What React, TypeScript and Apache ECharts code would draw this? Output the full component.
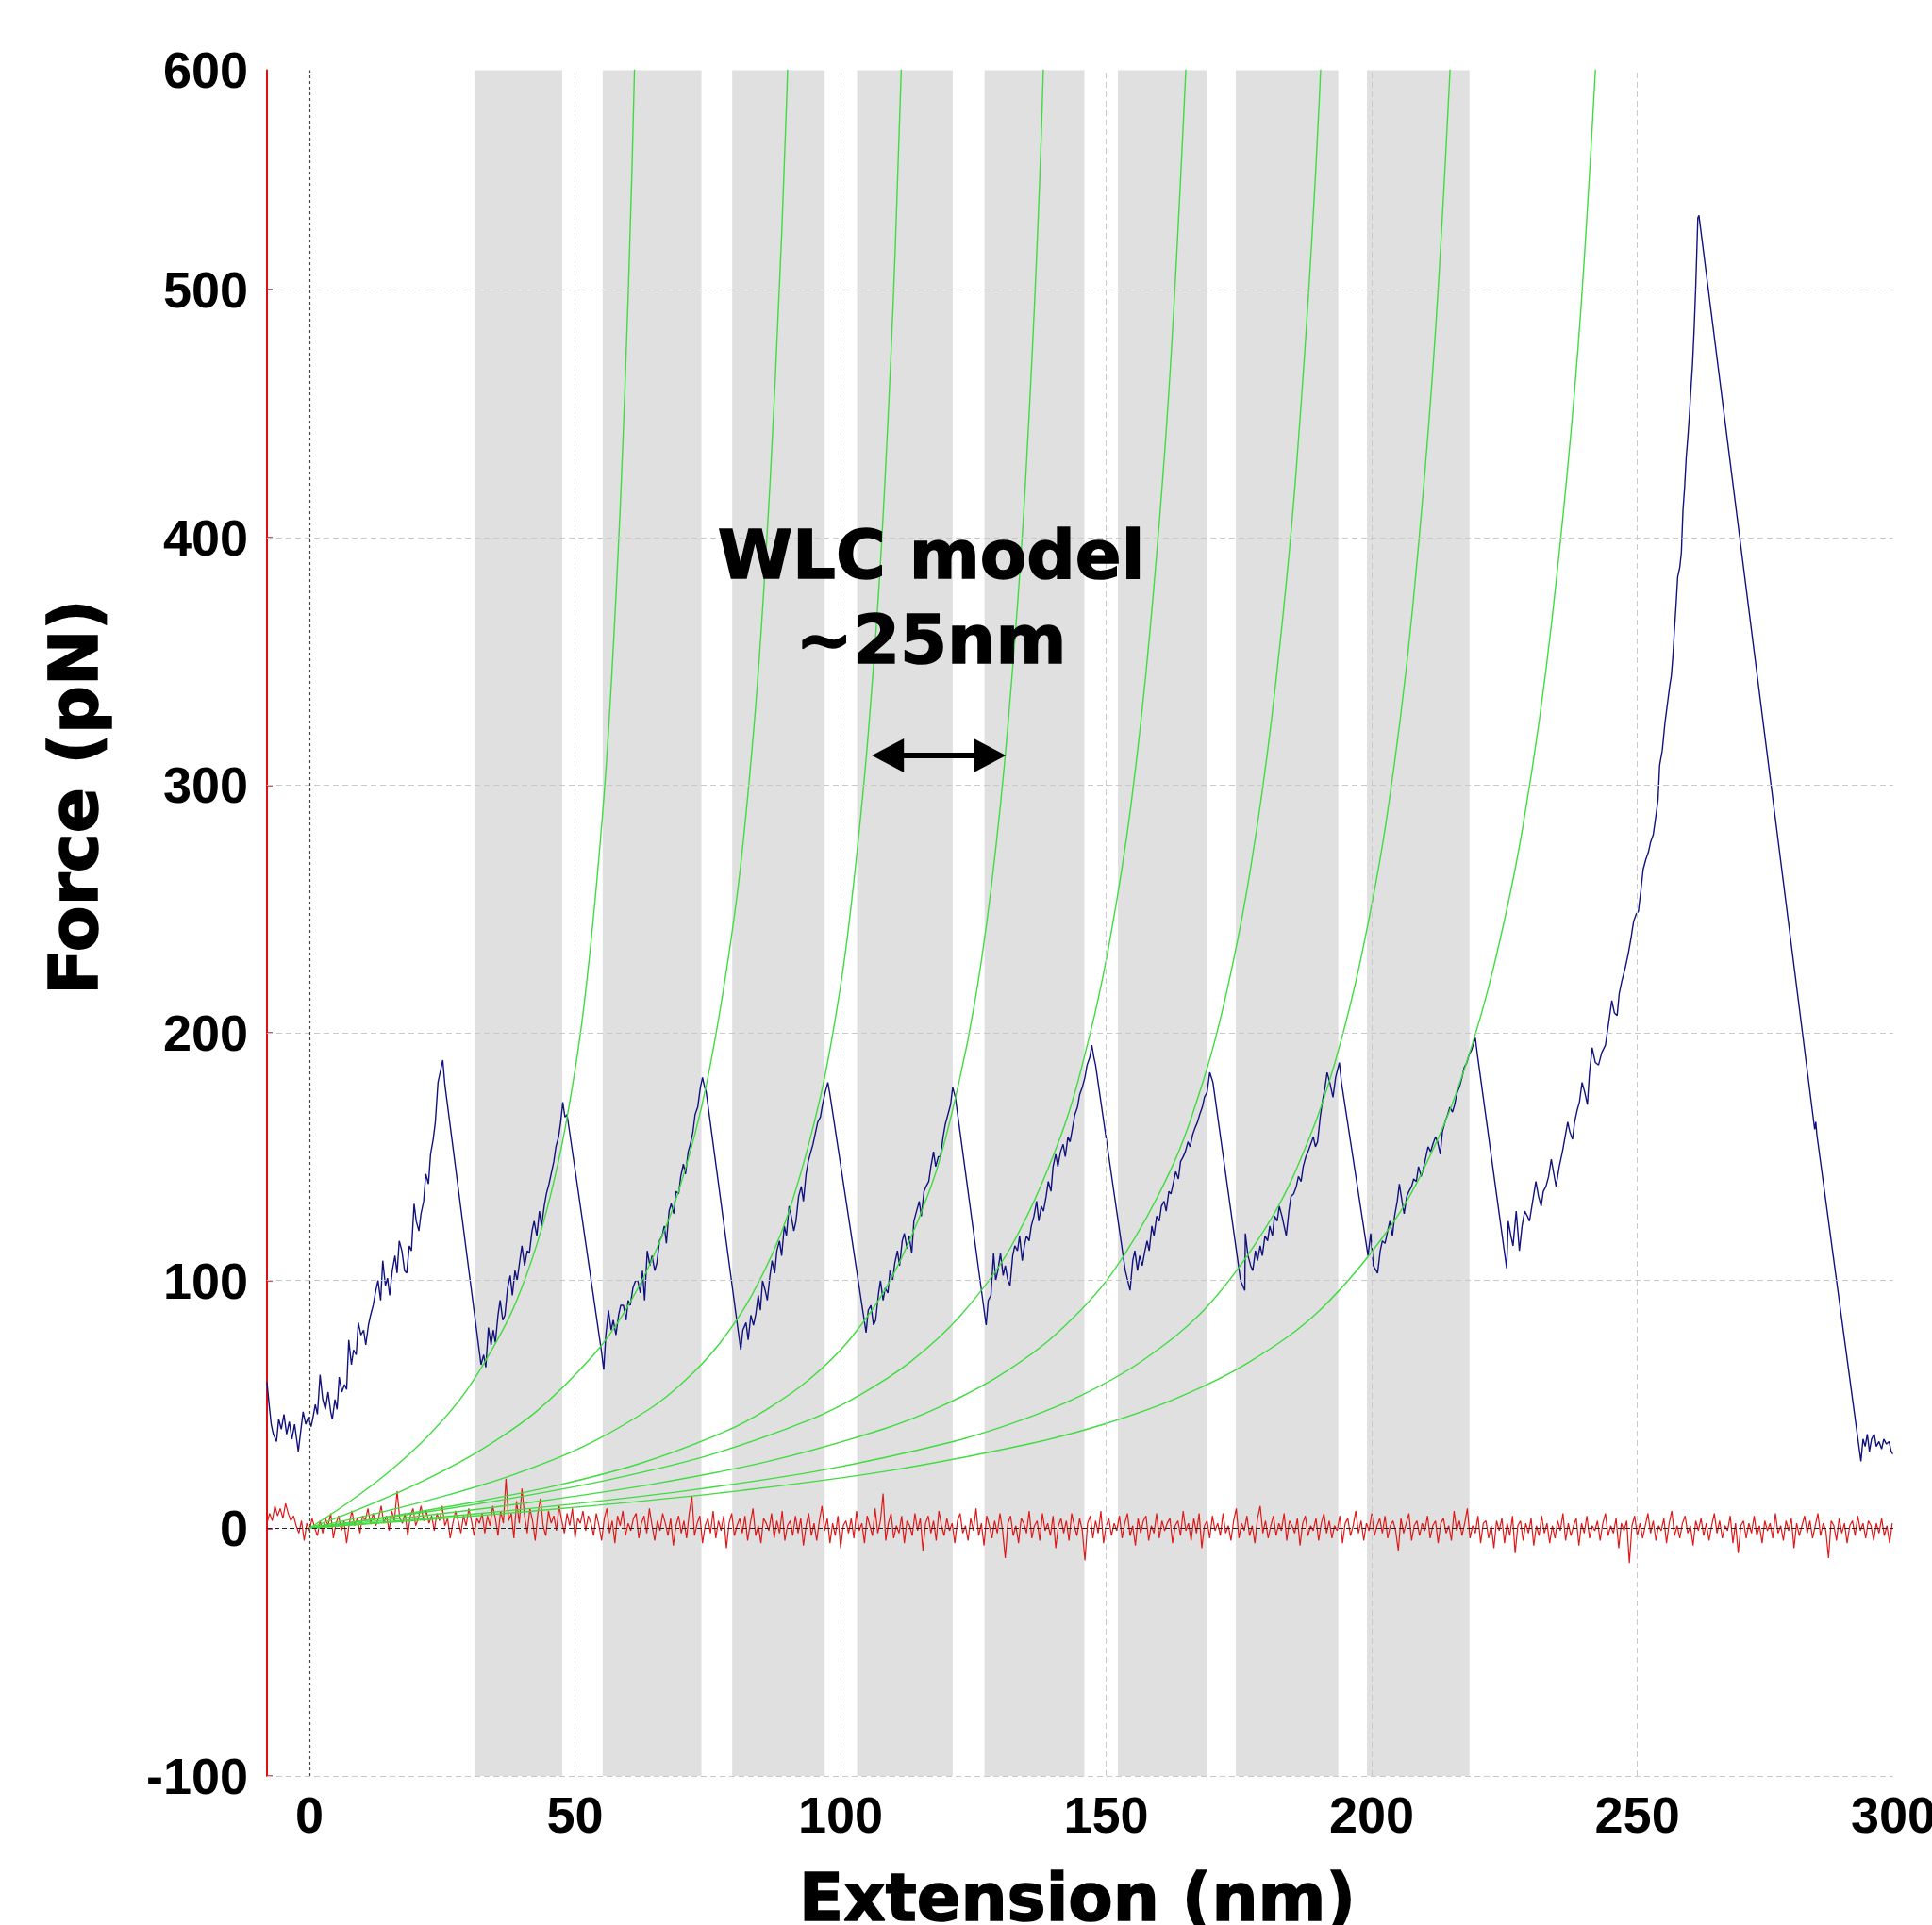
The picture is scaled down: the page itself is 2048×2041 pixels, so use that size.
import React, { useEffect, useRef } from 'react';
import * as echarts from 'echarts';

// ---------- axes ----------
const X_MIN = -8;
const X_MAX = 298.2;
const Y_MIN = -100;
const Y_MAX = 588.6;

const X_TICK_VALUES = [0, 50, 100, 150, 200, 250, 298.2];
const X_TICK_LABELS = ['0', '50', '100', '150', '200', '250', '300'];
const Y_TICK_VALUES = [-100, 0, 100, 200, 300, 400, 500, 588.6];
const Y_TICK_LABELS = ['-100', '0', '100', '200', '300', '400', '500', '600'];

const X_GRID = [50, 100, 150, 200, 250];
const Y_GRID = [-100, 100, 200, 300, 400, 500];

// ---------- shaded unfolding regions (nm) ----------
const BANDS: [number, number][] = [
  [31.1, 47.6], [55.2, 73.8], [79.6, 97.0], [103.1, 121.1],
  [127.1, 145.9], [152.2, 168.9], [174.4, 193.7], [199.1, 218.4],
];

// ---------- retract force curve (blue) ----------
const FORCE_TRACE: [number, number][] = [
  [-8, 59], [-7.6, 50], [-7.2, 42], [-6.8, 38], [-6.2, 35], [-5.8, 44], [-5.3, 40], [-4.8, 46], [-4.3, 38], [-3.8, 43],
  [-3.3, 36], [-2.8, 42], [-2.1, 31], [-1.6, 40], [-1.2, 47], [-0.7, 42], [-0.2, 45], [0.3, 41], [0.6, 44], [1.1, 50],
  [1.5, 46], [2.0, 62], [2.5, 52], [3.0, 48], [3.5, 55], [4.0, 47], [4.3, 44], [4.8, 52], [5.2, 48], [5.6, 61],
  [6.1, 55], [6.6, 58], [7.0, 56], [7.4, 76], [7.9, 66], [8.3, 72], [8.8, 70], [9.2, 83], [9.7, 78], [10.2, 80],
  [10.6, 74], [11.1, 82], [11.5, 86], [12.0, 90], [12.5, 96], [12.9, 100], [13.4, 92], [13.8, 108], [14.3, 98], [14.7, 101],
  [15.1, 94], [15.6, 104], [16.1, 110], [16.5, 103], [16.9, 116], [17.4, 112], [17.9, 104], [18.3, 103], [18.8, 114], [19.2, 112],
  [19.7, 131], [20.1, 124], [20.6, 120], [21.0, 127], [21.5, 132], [21.9, 143], [22.4, 139], [22.8, 151], [23.3, 157], [23.7, 164],
  [24.2, 180], [24.6, 184], [25.1, 189], [25.5, 179],
  [32.3, 66], [32.8, 70], [33.2, 65],
  [33.7, 81], [34.2, 74], [34.6, 80], [35.0, 75], [35.5, 86], [35.9, 92], [36.4, 84], [36.8, 86], [37.3, 97], [37.8, 102],
  [38.2, 94], [38.7, 104], [39.1, 100], [39.6, 108], [40.0, 114], [40.5, 106], [41.0, 112], [41.4, 111], [41.9, 120], [42.3, 124],
  [42.8, 118], [43.3, 128], [43.7, 122], [44.2, 130], [44.6, 135], [45.1, 139], [45.5, 143], [46.0, 148], [46.4, 154], [46.9, 158],
  [47.3, 164], [47.7, 172], [48.1, 166], [48.5, 167],
  [55.0, 71], [55.4, 64],
  [55.8, 78], [56.3, 88], [56.8, 80], [57.2, 84], [57.7, 78], [58.2, 86], [58.6, 90], [59.1, 90], [59.6, 84], [60.0, 92],
  [60.4, 90], [60.9, 97], [61.4, 100], [61.8, 100], [62.3, 95], [62.7, 104], [63.1, 92], [63.6, 112], [64.1, 106], [64.5, 110],
  [65.0, 104], [65.4, 107], [65.9, 116], [66.4, 118], [66.8, 122], [67.2, 115], [67.7, 128], [68.1, 131], [68.6, 127], [69.0, 136],
  [69.5, 135], [69.9, 142], [70.4, 147], [70.8, 143], [71.3, 152], [71.7, 155], [72.2, 160], [72.6, 167], [73.1, 170], [73.6, 178],
  [74.0, 182], [74.4, 178], [74.7, 176],
  [81.2, 72],
  [81.6, 80], [82.2, 83], [82.6, 76], [83.1, 86], [83.6, 82], [84.0, 86], [84.5, 94], [84.9, 88], [85.3, 100], [85.8, 96],
  [86.2, 92], [86.7, 102], [87.1, 108], [87.6, 103], [88.0, 112], [88.5, 116], [88.9, 110], [89.4, 122], [89.8, 118], [90.3, 130],
  [90.7, 126], [91.2, 120], [91.6, 124], [92.1, 134], [92.6, 138], [93.0, 132], [93.5, 143], [93.9, 148], [94.4, 152], [94.8, 155],
  [95.3, 160], [95.7, 164], [96.2, 166], [96.6, 171], [97.1, 176], [97.6, 180], [98.0, 175],
  [104.8, 79],
  [105.2, 88], [105.7, 90], [106.2, 82], [106.6, 84], [107.1, 94], [107.5, 100], [108.0, 92], [108.4, 97], [108.9, 95], [109.3, 104],
  [109.8, 100], [110.2, 107], [110.7, 112], [111.1, 106], [111.6, 116], [112.0, 119], [112.5, 113], [112.9, 118], [113.4, 111], [113.8, 124],
  [114.3, 128], [114.8, 132], [115.2, 126], [115.7, 136], [116.1, 138], [116.6, 140], [117.0, 146], [117.5, 152], [117.9, 146], [118.4, 150],
  [118.8, 150], [119.3, 158], [119.7, 163], [120.2, 167], [120.7, 171], [121.1, 178], [121.6, 174],
  [127.4, 82],
  [127.8, 92], [128.3, 94], [128.8, 111], [129.2, 100], [129.6, 104], [130.1, 111], [130.6, 102], [131.0, 106], [131.5, 100], [131.9, 98],
  [132.4, 110], [132.8, 114], [133.3, 112], [133.7, 118], [134.2, 108], [134.6, 114], [135.0, 118], [135.5, 116], [135.9, 122], [136.4, 126],
  [136.9, 132], [137.3, 124], [137.8, 130], [138.2, 128], [138.7, 134], [139.1, 140], [139.6, 136], [140.0, 146], [140.5, 151], [140.9, 146],
  [141.4, 152], [141.9, 155], [142.3, 150], [142.8, 158], [143.2, 156], [143.7, 162], [144.1, 167], [144.6, 170], [145.0, 175], [145.5, 178],
  [146.0, 182], [146.4, 187], [146.9, 190], [147.3, 195], [147.7, 190], [148.0, 187],
  [153.6, 104], [154.5, 96],
  [155.0, 108], [155.4, 112], [155.9, 104], [156.3, 110], [156.8, 106], [157.2, 111], [157.7, 116], [158.1, 112], [158.6, 122], [159.0, 118],
  [159.5, 126], [160.0, 124], [160.4, 130], [160.9, 132], [161.3, 128], [161.8, 136], [162.2, 135], [162.7, 140], [163.1, 144], [163.6, 141],
  [164.0, 148], [164.5, 150], [164.9, 152], [165.4, 156], [165.8, 154], [166.3, 159], [166.8, 162], [167.2, 164], [167.6, 167], [168.1, 170],
  [168.5, 174], [169.0, 176], [169.5, 184], [170.1, 180],
  [175.3, 100], [176.1, 96],
  [176.2, 119], [176.7, 110], [177.2, 106], [177.6, 104], [178.1, 112], [178.5, 108], [179.0, 114], [179.4, 110], [179.9, 118], [180.4, 116],
  [180.8, 122], [181.3, 118], [181.7, 126], [182.2, 124], [182.6, 130], [183.1, 126], [183.5, 122], [183.9, 118], [184.4, 128], [184.8, 134],
  [185.3, 135], [185.8, 138], [186.2, 142], [186.7, 140], [187.1, 146], [187.6, 150], [188.0, 152], [188.5, 155], [189.0, 158], [189.4, 154],
  [189.8, 156], [190.3, 166], [190.7, 172], [191.2, 178], [191.6, 184], [192.1, 180], [192.7, 174], [193.2, 182], [193.9, 188], [194.3, 180],
  [199.3, 110], [199.8, 119], [200.3, 106], [201.1, 103],
  [201.6, 112], [202.0, 116], [202.5, 115], [203.0, 120], [203.4, 124], [203.9, 118], [204.3, 126], [204.8, 132], [205.2, 139], [205.7, 132],
  [206.1, 127], [206.6, 134], [207.0, 136], [207.5, 138], [207.9, 141], [208.4, 140], [208.8, 146], [209.3, 142], [209.7, 145], [210.2, 150],
  [210.6, 154], [211.1, 152], [211.5, 155], [212.0, 158], [212.4, 156], [212.9, 151], [213.3, 160], [213.8, 164], [214.3, 167], [214.7, 170],
  [215.2, 168], [215.6, 171], [216.1, 176], [216.5, 178], [217.0, 182], [217.4, 186], [217.9, 188], [218.3, 191], [218.8, 193], [219.2, 196],
  [219.5, 198], [219.9, 191],
  [225.4, 105],
  [225.7, 124], [226.2, 118], [226.6, 114], [227.2, 128], [227.8, 112], [228.3, 122], [228.8, 128], [229.3, 126], [229.7, 124], [230.3, 132],
  [230.9, 140], [231.4, 134], [231.9, 130], [232.3, 136], [232.8, 138], [233.3, 142], [233.8, 149], [234.2, 144], [234.7, 138], [235.3, 146],
  [235.9, 152], [236.4, 158], [236.9, 164], [237.3, 160], [237.8, 157], [238.2, 164], [238.7, 169], [239.1, 172], [239.6, 180], [240.1, 176],
  [240.6, 171], [241.0, 184], [241.5, 194], [242.1, 188], [242.7, 187], [243.3, 192], [244.0, 195], [244.6, 204], [245.2, 213], [245.7, 208],
  [246.2, 207], [246.6, 216], [247.1, 221], [247.7, 226], [248.3, 232], [248.8, 238], [249.3, 245], [249.8, 248], [250.2, 249], [250.7, 258],
  [251.1, 266], [251.6, 270], [252.1, 273], [252.5, 277], [253.0, 280], [253.4, 286], [253.9, 294], [254.2, 308], [254.7, 314], [255.2, 325],
  [255.5, 330], [255.8, 335], [256.1, 340], [256.4, 344], [256.7, 352], [257.0, 363], [257.3, 373], [257.6, 384], [258.0, 388], [258.3, 394],
  [258.6, 411], [258.9, 420], [259.2, 432], [259.5, 440], [259.8, 449], [260.1, 460], [260.4, 470], [260.7, 484], [261.0, 501], [261.2, 515],
  [261.4, 529], [261.6, 530],
  [283.4, 161], [283.6, 164], [283.8, 159],
  [292.1, 27],
  [292.5, 36], [292.9, 33], [293.3, 38], [293.7, 31], [294.1, 36], [294.6, 38], [295.0, 33], [295.5, 35], [296.0, 32], [296.4, 36],
  [296.9, 34], [297.4, 35], [297.8, 31], [298.1, 30],
];

// ---------- baseline trace (red), sampled every 0.5 nm from -8 nm ----------
const BASELINE_X0 = -8;
const BASELINE_STEP = 0.5;
const BASELINE_Y = [
  2, 6, 3, 9, 5, 8, 4, 10, 6, 3, 5, 1, -2, 3, -5, 2, -1, 4, 0, -3,
  3, -2, 4, 1, 6, -4, 2, 5, -1, 3, -6, 2, 7, 1, 4, -2, 5, 3, 8, 2,
  6, 1, 4, 9, 2, 5, -1, 7, 3, 15, 4, 2, 6, -3, 5, 8, 1, 4, 9, 3,
  7, 2, 5, -1, 6, 3, 9, 1, 4, -4, 2, 7, 3, -2, 5, 1, 8, 3, -3, 4,
  2, 6, -2, 5, 1, 9, 4, -3, 7, 2, 20, 3, 6, -4, 11, 2, 16, 5, -2, 8,
  3, -5, 6, 12, 1, -3, 7, 2, 5, -1, 9, 3, -2, 6, 1, 8, -4, 4, 2, 7,
  -1, 5, 2, -3, 6, 1, -5, 4, 8, -2, 3, -6, 5, 1, 7, -3, 2, -1, 4, 6,
  -4, 2, 5, -2, 8, 1, -5, 3, -1, 6, 2, -3, 4, -7, 1, 5, -2, 3, -4, 6,
  13, -3, 2, 5, -6, 1, 4, -2, 7, -4, 3, -1, 5, -8, 2, 6, -3, 1, 4, -2,
  5, -5, 2, 8, -3, 1, -6, 4, 2, -1, 6, -4, 3, -2, 7, -5, 1, 3, -3, 5,
  -2, 4, -7, 1, 6, -3, 2, -5, 3, 9, -1, 4, -6, 2, -3, 5, -8, 1, 3, -2,
  4, -4, 7, -1, 2, -6, 5, 1, -3, 8, -2, 3, 14, -5, 2, 6, -4, 1, -2, 5,
  -6, 3, 1, -3, 6, -1, 4, -9, 2, 5, -2, 3, -5, 7, 1, -3, 4, -1, 2, -6,
  3, 6, -2, 1, -5, 4, -1, 8, -3, 2, -7, 5, 1, -4, 3, -2, 6, -1, -12, 2,
  5, -3, 1, -6, 4, 2, -2, 7, -4, 1, 3, -5, 6, -1, 2, -3, 5, -8, 1, 4,
  -2, 3, -5, 6, 1, -3, 4, -1, -13, 2, 5, -4, 3, -2, 7, -6, 1, 4, -3, 2,
  -1, 5, -4, 2, 6, -3, 1, -7, 4, -2, 3, 5, -5, 1, -2, 6, -4, 3, -1, 2,
  4, -6, 1, 3, -3, 7, -1, 2, -5, 4, -2, 6, -8, 1, 3, -4, 5, -1, 2, -3,
  6, -2, 1, -5, 3, 8, -4, 2, -1, 5, -3, 1, -6, 4, 9, -2, 3, -4, 1, 5,
  -3, 2, -1, 6, -5, 3, 1, -2, 4, -7, 2, 5, -3, 1, -1, 4, -5, 2, 6, -2,
  3, -4, 1, -1, 5, -6, 2, 4, -3, 1, 7, -2, 3, -5, 2, -1, 6, -3, 1, 4,
  -2, 5, -4, 1, 3, -1, -9, 4, -2, 2, 6, -5, 1, 3, -3, 2, -1, 5, -4, 1,
  3, -6, 2, 4, -2, 1, -5, 7, -1, 3, -3, 2, 8, -4, 1, -2, 5, -6, 2, 3,
  -4, 1, -8, 3, -1, 4, -6, 2, -3, 5, -10, 1, 3, -5, 2, -2, 4, -7, 1, -3,
  5, -2, 2, -6, 1, -4, 3, -1, 6, -5, 2, -3, 1, 4, -7, 2, -2, 5, -4, 1,
  -1, 3, -5, 2, 6, -3, 1, -2, 4, -8, 2, -1, 3, -14, 1, 5, -3, 2, -4, 1,
  6, -2, 3, -5, 1, -1, 4, -6, 2, 7, -3, 1, -4, 2, 5, -2, 1, -7, 3, -1,
  4, -3, 2, -5, 1, 6, -2, 3, -4, 1, -1, 5, -6, 2, -10, 1, 3, -4, 2, -2,
  5, -3, 1, -6, 3, -1, 2, -4, 6, -2, 1, -5, 3, -1, 4, -8, 2, -3, 1, 5,
  -2, 3, -4, 1, 6, -3, 2, -1, -12, 3, 1, -5, 4, -2, 2, -6, 1, 3, -3, 5,
  -1, 2, -4, 3, 1, -5, 2, -2, 4, -3, 1, -6, 2,
];

// ---------- WLC model fits (green) ----------
const WLC_1: [number, number][] = [[0, 0], [7.4, 10.5], [14.8, 22.5], [22.2, 37.0], [29.6, 55.7], [37.0, 82.5], [40.7, 101.3], [44.4, 126.2], [48.1, 161.1], [51.8, 213.0], [55.5, 297.0], [57.7, 375.9], [59.2, 448.8], [60.7, 546.9], [62.2, 683.5]];
const WLC_2: [number, number][] = [[0, 0], [10.7, 8.9], [21.4, 19.1], [32.1, 31.4], [42.8, 47.3], [53.5, 70.0], [58.9, 85.9], [64.2, 107.1], [69.6, 136.7], [74.9, 180.8], [80.3, 252.0], [83.5, 318.9], [85.6, 380.8], [87.7, 464.0], [89.9, 579.9], [92.0, 748.4]];
const WLC_3: [number, number][] = [[0, 0], [12.8, 6.1], [25.7, 13.2], [38.5, 21.7], [51.3, 32.7], [64.2, 48.4], [70.6, 59.4], [77.0, 74.0], [83.4, 94.5], [89.8, 124.9], [96.2, 174.2], [100.1, 220.4], [102.6, 263.2], [105.2, 320.7], [107.8, 400.8], [110.3, 517.2], [112.9, 696.2]];
const WLC_4: [number, number][] = [[0, 0], [15.7, 5.0], [31.3, 10.7], [47.0, 17.5], [62.6, 26.4], [78.3, 39.1], [86.1, 48.0], [94.0, 59.9], [101.8, 76.4], [109.6, 101.0], [117.5, 140.9], [122.1, 178.3], [125.3, 212.8], [128.4, 259.4], [131.5, 324.1], [134.7, 418.3], [137.8, 563.1], [140.9, 802.8]];
const WLC_5: [number, number][] = [[0, 0], [18.9, 5.6], [37.7, 12.0], [56.6, 19.7], [75.4, 29.6], [94.3, 43.9], [103.7, 53.9], [113.1, 67.1], [122.5, 85.7], [132.0, 113.3], [141.4, 158.0], [147.0, 199.9], [150.8, 238.7], [154.6, 290.8], [158.3, 363.5], [162.1, 469.1], [165.9, 631.4]];
const WLC_6: [number, number][] = [[0, 0], [21.6, 5.1], [43.2, 10.9], [64.8, 17.9], [86.4, 27.0], [108.0, 40.0], [118.8, 49.1], [129.6, 61.2], [140.4, 78.1], [151.2, 103.3], [162.0, 144.0], [168.5, 182.2], [172.8, 217.6], [177.1, 265.2], [181.4, 331.4], [185.8, 427.7], [190.1, 575.7], [194.4, 820.8]];
const WLC_7: [number, number][] = [[0, 0], [24.2, 4.4], [48.3, 9.5], [72.5, 15.6], [96.6, 23.5], [120.8, 34.8], [132.8, 42.7], [144.9, 53.2], [157.0, 67.9], [169.1, 89.7], [181.1, 125.1], [188.4, 158.3], [193.2, 189.0], [198.0, 230.4], [202.9, 287.9], [207.7, 371.5], [212.5, 500.1], [217.4, 713.1]];
const WLC_8: [number, number][] = [[0, 0], [27.2, 4.3], [54.4, 9.3], [81.6, 15.3], [108.8, 23.1], [136.0, 34.3], [149.6, 42.0], [163.2, 52.4], [176.8, 66.9], [190.4, 88.4], [204.0, 123.3], [212.2, 156.0], [217.6, 186.3], [223.0, 227.0], [228.5, 283.8], [233.9, 366.2], [239.4, 492.9], [244.8, 702.8]];
const WLC_CURVES = [WLC_1, WLC_2, WLC_3, WLC_4, WLC_5, WLC_6, WLC_7, WLC_8];

// ---------- annotation ----------
const ANNOTATION_LINES = ['WLC model', '~25nm'];
const ARROW_FROM = 108.9; // shaft ends (arrow tips at ~105.9 and ~131.1 nm)
const ARROW_TO = 128.1;
const ARROW_Y = 312;

const TICK_FONT = '"Liberation Sans", Arial, Helvetica, sans-serif';
const TITLE_FONT = '"DejaVu Sans", "Liberation Sans", Arial, sans-serif';

function lookup(values: number[], labels: string[]) {
  return (v: number) => {
    const i = values.findIndex((t) => Math.abs(t - v) < 1e-6);
    return i >= 0 ? labels[i] : '';
  };
}

function titleStyle(text: string, size: number) {
  return {
    text,
    font: `bold ${size}px ${TITLE_FONT}`,
    fill: '#000',
    stroke: '#000',
    lineWidth: 1.5,
    align: 'center',
    verticalAlign: 'middle',
    textAlign: 'center',
    textVerticalAlign: 'middle',
  };
}

function buildOption() {
  const baseline = BASELINE_Y.map((y, i) => [BASELINE_X0 + i * BASELINE_STEP, y]);

  const series: any[] = [
    {
      name: 'bands',
      type: 'line',
      data: [],
      symbol: 'none',
      silent: true,
      z: 1,
      markArea: {
        silent: true,
        itemStyle: { color: '#e0e0e0' },
        data: BANDS.map(([a, b]) => [{ xAxis: a }, { xAxis: b }]),
      },
    },
    {
      name: 'grid',
      type: 'line',
      data: [],
      symbol: 'none',
      silent: true,
      z: 2,
      markLine: {
        silent: true,
        symbol: 'none',
        label: { show: false },
        lineStyle: { color: '#c9c9c9', type: [6, 4], width: 1 },
        data: [
          ...X_GRID.map((v) => ({ xAxis: v })),
          ...Y_GRID.map((v) => ({ yAxis: v })),
          { xAxis: 0, lineStyle: { color: '#444', type: [3, 3], width: 1.2 } },
          { yAxis: 0, lineStyle: { color: '#222', type: [5, 3], width: 1.2 } },
        ],
      },
    },
    {
      name: 'force',
      type: 'line',
      data: FORCE_TRACE,
      showSymbol: false,
      symbol: 'none',
      z: 3,
      lineStyle: { color: '#12127e', width: 1.4 },
    },
    {
      name: 'baseline',
      type: 'line',
      data: baseline,
      showSymbol: false,
      symbol: 'none',
      z: 3,
      lineStyle: { color: '#e01818', width: 1.2 },
    },
    ...WLC_CURVES.map((c, i) => ({
      name: 'wlc' + (i + 1),
      type: 'line',
      data: c,
      showSymbol: false,
      symbol: 'none',
      smooth: 0.35,
      z: 4,
      lineStyle: { color: '#3fdc3f', width: 1.4 },
    })),
    {
      name: 'arrow',
      type: 'line',
      data: [],
      symbol: 'none',
      z: 6,
      markLine: {
        silent: true,
        symbol: ['triangle', 'triangle'],
        symbolSize: [36, 34],
        label: { show: false },
        lineStyle: { color: '#000', width: 6, type: 'solid' },
        data: [[{ coord: [ARROW_FROM, ARROW_Y] }, { coord: [ARROW_TO, ARROW_Y] }]],
      },
    },
  ];

  return {
    animation: false,
    backgroundColor: '#ffffff',
    grid: {
      left: 283,
      right: 41,
      top: 74.4,
      bottom: 158,
      containLabel: false,
      outerBoundsMode: 'none',
    },
    xAxis: {
      type: 'value',
      min: X_MIN,
      max: X_MAX,
      axisLine: { show: false, onZero: false },
      axisTick: { show: false },
      splitLine: { show: false },
      axisLabel: {
        customValues: X_TICK_VALUES,
        formatter: lookup(X_TICK_VALUES, X_TICK_LABELS),
        margin: 14,
        color: '#000',
        fontSize: 54,
        fontWeight: 'bold',
        fontFamily: TICK_FONT,
      },
    },
    yAxis: {
      type: 'value',
      min: Y_MIN,
      max: Y_MAX,
      axisLine: { show: true, onZero: false, lineStyle: { color: '#e01010', width: 2 } },
      axisTick: {
        show: true,
        inside: true,
        length: 6,
        customValues: Y_GRID.concat([0]),
        lineStyle: { color: '#e01010', width: 1.5 },
      },
      splitLine: { show: false },
      axisLabel: {
        customValues: Y_TICK_VALUES,
        formatter: lookup(Y_TICK_VALUES, Y_TICK_LABELS),
        margin: 20,
        color: '#000',
        fontSize: 54,
        fontWeight: 'bold',
        fontFamily: TICK_FONT,
      },
    },
    graphic: [
      { type: 'text', x: 1142, y: 2012, silent: true, style: titleStyle('Extension (nm)', 69) },
      { type: 'text', x: 78, y: 845, rotation: Math.PI / 2, silent: true, style: titleStyle('Force (pN)', 71) },
      { type: 'text', x: 987, y: 588, silent: true, z: 100, style: titleStyle(ANNOTATION_LINES[0], 72) },
      { type: 'text', x: 987, y: 678, silent: true, z: 100, style: titleStyle(ANNOTATION_LINES[1], 72) },
    ],
    series,
  };
}

export default function App() {
  const ref = useRef<HTMLDivElement>(null);
  useEffect(() => {
    if (!ref.current) return;
    const chart = echarts.init(ref.current, null, { renderer: 'svg' });
    chart.setOption(buildOption() as any);
    return () => chart.dispose();
  }, []);
  return (
    <div
      ref={ref}
      style={{ position: 'absolute', left: 0, top: 0, width: 2048, height: 2041, background: '#fff' }}
    />
  );
}
